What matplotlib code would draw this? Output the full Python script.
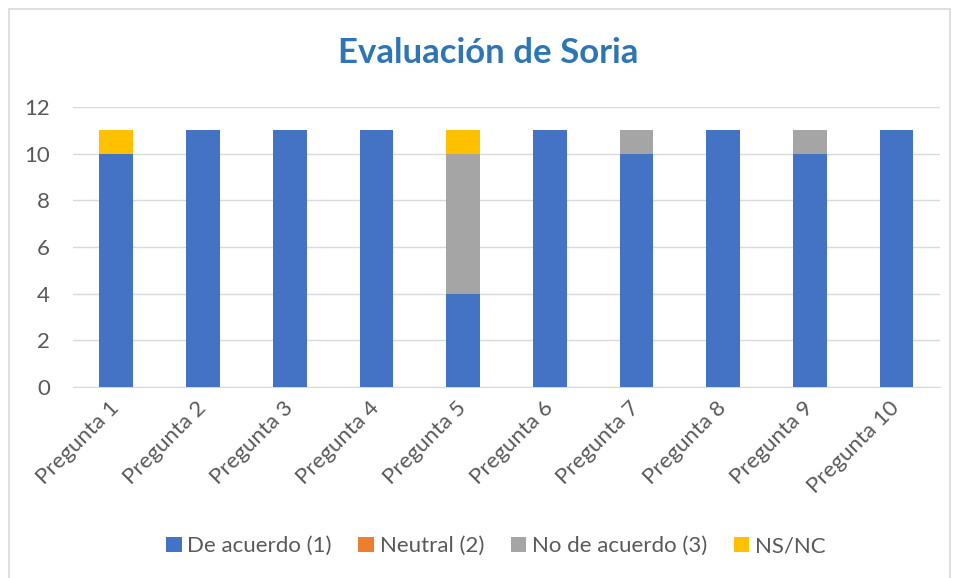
import matplotlib
matplotlib.use('Agg')
import matplotlib.pyplot as plt
from matplotlib.patches import Rectangle
import numpy as np

preguntas = ['Pregunta 1', 'Pregunta 2', 'Pregunta 3', 'Pregunta 4', 'Pregunta 5',
             'Pregunta 6', 'Pregunta 7', 'Pregunta 8', 'Pregunta 9', 'Pregunta 10']
de_acuerdo = [10, 11, 11, 11, 4, 11, 10, 11, 10, 11]
neutral = [0, 0, 0, 0, 0, 0, 0, 0, 0, 0]
no_de_acuerdo = [0, 0, 0, 0, 6, 0, 1, 0, 1, 0]
ns_nc = [1, 0, 0, 0, 1, 0, 0, 0, 0, 0]

series = [
    ('De acuerdo (1)', de_acuerdo, '#4472C4'),
    ('Neutral (2)', neutral, '#ED7D31'),
    ('No de acuerdo (3)', no_de_acuerdo, '#A5A5A5'),
    ('NS/NC', ns_nc, '#FFC000'),
]

plt.rcParams['font.family'] = ['Lato', 'DejaVu Sans']
text_color = '#595959'

fig = plt.figure(figsize=(9.59, 5.78), dpi=100)
ax = fig.add_axes([0.0761, 0.3304, 0.904, 0.4846])

x = np.arange(len(preguntas))
bottom = np.zeros(len(preguntas))
for name, vals, color in series:
    ax.bar(x, vals, 0.39, bottom=bottom, color=color, label=name, zorder=3)
    bottom += np.array(vals)

ax.set_xlim(-0.5, len(preguntas) - 0.5)
ax.set_ylim(0, 12)
ax.set_yticks(range(0, 13, 2))
ax.yaxis.grid(True, color='#D9D9D9', linewidth=1, zorder=0)
ax.set_xticks(x)
ax.set_xticklabels(preguntas, rotation=45, ha='right', va='center', rotation_mode='anchor')
ax.tick_params(axis='both', colors=text_color, labelsize=16, length=0)
ax.tick_params(axis='x', pad=13)
ax.tick_params(axis='y', pad=16.5)
for side in ['left', 'right', 'top']:
    ax.spines[side].set_visible(False)
ax.spines['bottom'].set_color('#D9D9D9')

fig.text(0.509, 0.908, 'Evaluación de Soria', ha='center', va='center',
         fontsize=25, fontweight='bold', color='#2E75B6')

leg = fig.legend(loc='center', bbox_to_anchor=(0.517, 0.055), ncol=4, frameon=False,
                 fontsize=16, handlelength=0.7, handleheight=0.7, handletextpad=0.25,
                 columnspacing=1.2)
for t in leg.get_texts():
    t.set_color(text_color)

fig.patches.append(Rectangle((0.009, -0.01), 0.982, 0.995, transform=fig.transFigure,
                             fill=False, edgecolor='#D9D9D9', linewidth=1.2))

fig.savefig('out.png', dpi=100)
